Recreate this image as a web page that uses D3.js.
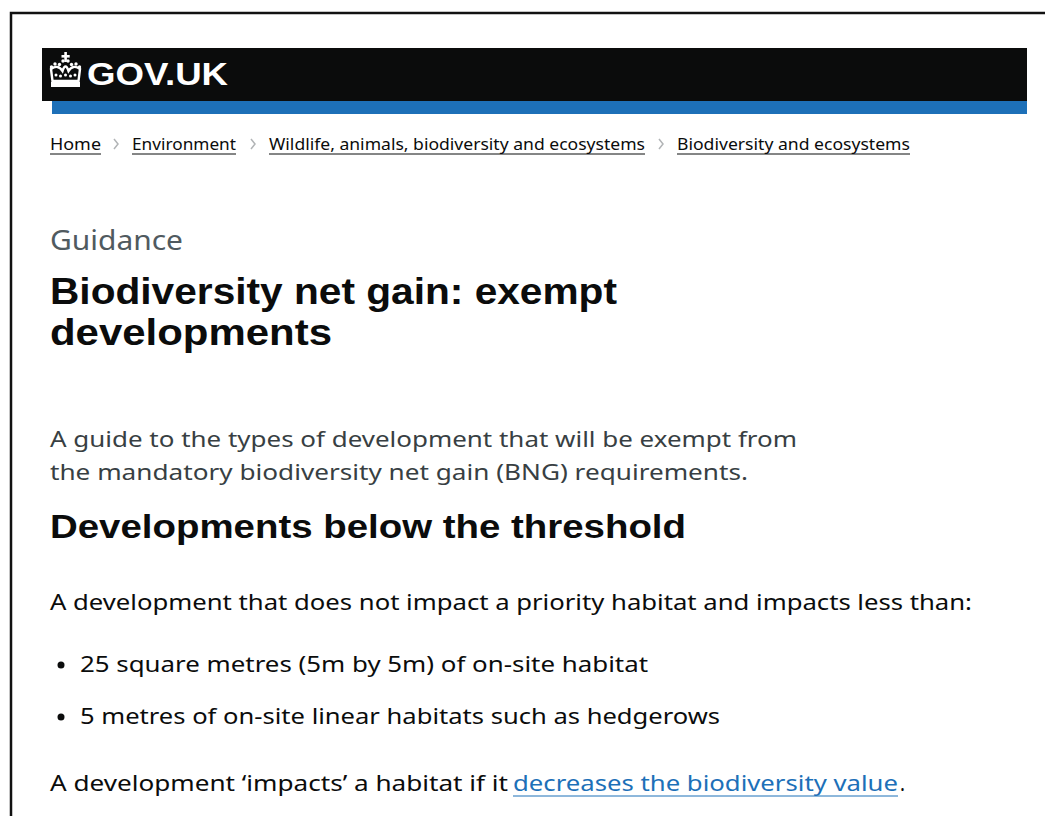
<!DOCTYPE html>
<html><head><meta charset="utf-8">
<script src="https://cdn.jsdelivr.net/npm/d3@7"></script>
<style>body{margin:0;background:#fff}</style>
</head><body>
<script>
// ---- content ----
const logoText = "GOV.UK";
const breadcrumbs = ["Home", "Environment", "Wildlife, animals, biodiversity and ecosystems", "Biodiversity and ecosystems"];
const breadcrumbX = [50, 132, 269, 677];
const breadcrumbW = [51, 104, 376, 233];
const caption = "Guidance";
const titleLines = ["Biodiversity net gain: exempt", "developments"];
const titleW = [567, 282];
const leadLines = ["A guide to the types of development that will be exempt from", "the mandatory biodiversity net gain (BNG) requirements."];
const leadW = [747, 698];
const heading = "Developments below the threshold";
const introText = "A development that does not impact a priority habitat and impacts less than:";
const bullets = ["25 square metres (5m by 5m) of on-site habitat", "5 metres of on-site linear habitats such as hedgerows"];
const bulletW = [568, 640];
const finalText = ["A development \u2018impacts\u2019 a habitat if it ", "decreases the biodiversity value", "."];

const W = 1045, H = 816;
const svg = d3.select("body").append("svg").attr("width", W).attr("height", H);
svg.append("rect").attr("width", W).attr("height", H).attr("fill", "#fff");

// frame
svg.append("path").attr("d", "M11,816 V13 H1045").attr("fill", "none").attr("stroke", "#111").attr("stroke-width", 2.5);

// header
svg.append("rect").attr("x", 42).attr("y", 48).attr("width", 985).attr("height", 53).attr("fill", "#0b0c0c");
svg.append("rect").attr("x", 52).attr("y", 101).attr("width", 975).attr("height", 13).attr("fill", "#1d70b8");

// crown
const cr = svg.append("g").attr("fill", "#fff");
cr.append("rect").attr("x", 51).attr("y", 82).attr("width", 29).attr("height", 5);
cr.append("path").attr("d", "M52.5,81 L51,69 Q58,64 62.5,71 Q65.5,62 68.5,71 Q73,64 80,69 L78.5,81 Z")
  .attr("fill", "none").attr("stroke", "#fff").attr("stroke-width", 2.4);
[[51.5,67],[55,64],[59.5,64.5],[63,61],[68,61],[71.5,64.5],[76,64],[79.5,67]].forEach(p => cr.append("circle").attr("cx", p[0]).attr("cy", p[1]).attr("r", 1.7));
cr.append("rect").attr("x", 64.3).attr("y", 52).attr("width", 2.6).attr("height", 10);
cr.append("rect").attr("x", 61.5).attr("y", 55).attr("width", 8.2).attr("height", 2.6);
[[56,75],[60.5,76],[65.5,75],[70.5,76],[75,75]].forEach(p => cr.append("circle").attr("cx", p[0]).attr("cy", p[1]).attr("r", 1.5));

svg.append("text").attr("x", 87).attr("y", 85).text(logoText)
  .attr("font-family", "Liberation Sans, Arial, sans-serif").attr("font-weight", "bold")
  .attr("font-size", 31).attr("fill", "#fff").attr("textLength", 141).attr("lengthAdjust", "spacingAndGlyphs");

const body = "Noto Sans, Lato, sans-serif";
const head = "Liberation Sans, Arial, sans-serif";

// breadcrumbs
const bc = svg.append("g");
bc.selectAll("text.bc").data(breadcrumbs).join("text").attr("class", "bc")
  .attr("x", (d, i) => breadcrumbX[i]).attr("y", 150).text(d => d)
  .attr("font-family", body).attr("font-size", 16).attr("fill", "#0b0c0c")
  .attr("textLength", (d, i) => breadcrumbW[i]).attr("lengthAdjust", "spacingAndGlyphs");
bc.selectAll("line.ul").data(breadcrumbs).join("line").attr("class", "ul")
  .attr("x1", (d, i) => breadcrumbX[i]).attr("x2", (d, i) => breadcrumbX[i] + breadcrumbW[i])
  .attr("y1", 154).attr("y2", 154).attr("stroke", "#0b0c0c").attr("stroke-width", 1);
bc.selectAll("path.chev").data(breadcrumbs.slice(1)).join("path").attr("class", "chev")
  .attr("d", (d, i) => { const x = breadcrumbX[i + 1] - 18; return `M${x},139 L${x + 4},144 L${x},149`; })
  .attr("fill", "none").attr("stroke", "#b1b4b6").attr("stroke-width", 1.5);

// caption
svg.append("text").attr("x", 50).attr("y", 250).text(caption)
  .attr("font-family", body).attr("font-size", 27).attr("fill", "#505a5f")
  .attr("textLength", 133).attr("lengthAdjust", "spacingAndGlyphs");

// title
svg.selectAll("text.title").data(titleLines).join("text").attr("class", "title")
  .attr("x", 50).attr("y", (d, i) => 304 + i * 41).text(d => d)
  .attr("font-family", head).attr("font-weight", "bold")
  .attr("font-size", 36).attr("fill", "#0b0c0c")
  .attr("textLength", (d, i) => titleW[i]).attr("lengthAdjust", "spacingAndGlyphs");

// lead
svg.selectAll("text.lead").data(leadLines).join("text").attr("class", "lead")
  .attr("x", 50).attr("y", (d, i) => 447 + i * 33).text(d => d)
  .attr("font-family", body).attr("font-size", 21).attr("fill", "#383f43")
  .attr("textLength", (d, i) => leadW[i]).attr("lengthAdjust", "spacingAndGlyphs");

// heading
svg.append("text").attr("x", 50).attr("y", 538).text(heading)
  .attr("font-family", head).attr("font-weight", "bold").attr("font-size", 33).attr("fill", "#0b0c0c")
  .attr("textLength", 636).attr("lengthAdjust", "spacingAndGlyphs");

// intro
svg.append("text").attr("x", 50).attr("y", 610).text(introText)
  .attr("font-family", body).attr("font-size", 21).attr("fill", "#0b0c0c")
  .attr("textLength", 922).attr("lengthAdjust", "spacingAndGlyphs");

// bullets
const bl = svg.selectAll("g.bullet").data(bullets).join("g").attr("class", "bullet")
  .attr("transform", (d, i) => `translate(0,${672 + i * 52})`);
bl.append("circle").attr("cx", 61).attr("cy", -7).attr("r", 3.5).attr("fill", "#0b0c0c");
bl.append("text").attr("x", 80).attr("y", 0).text(d => d)
  .attr("font-family", body).attr("font-size", 21).attr("fill", "#0b0c0c")
  .attr("textLength", (d, i) => bulletW[i]).attr("lengthAdjust", "spacingAndGlyphs");

// final line
const finX = [50, 513, 900], finW = [458, 385, 5];
const finCol = ["#0b0c0c", "#1d70b8", "#0b0c0c"];
svg.selectAll("text.fin").data(finalText).join("text").attr("class", "fin")
  .attr("x", (d, i) => finX[i]).attr("y", 791).text(d => d)
  .attr("font-family", body).attr("font-size", 21).attr("fill", (d, i) => finCol[i])
  .attr("textLength", (d, i) => finW[i]).attr("lengthAdjust", "spacingAndGlyphs");
svg.append("line").attr("x1", finX[1]).attr("x2", finX[1] + finW[1]).attr("y1", 796).attr("y2", 796)
  .attr("stroke", "#1d70b8").attr("stroke-width", 1);
</script>
</body></html>
